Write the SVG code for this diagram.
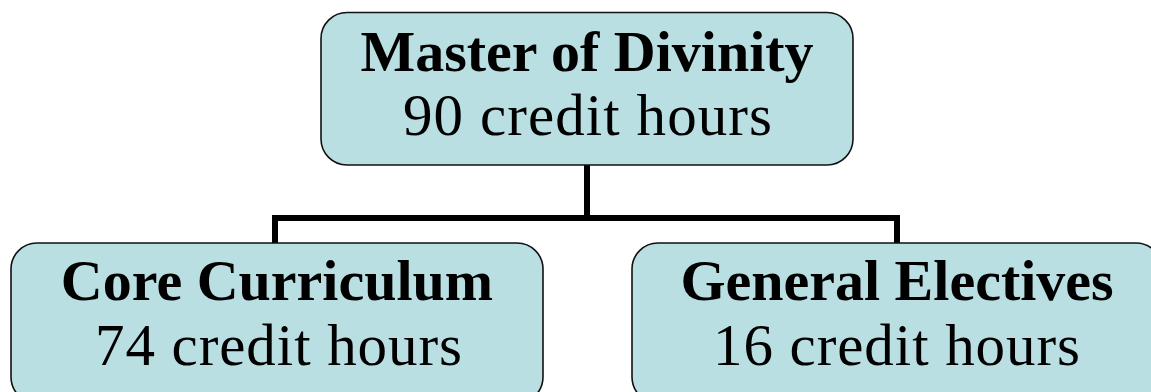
<svg xmlns="http://www.w3.org/2000/svg" width="1151" height="392" viewBox="0 0 1151 392">
<style>
.box{fill:#b9dfe2;stroke:#111;stroke-width:1.6}
.t{font-family:"Liberation Serif",serif;font-size:58px;fill:#000;text-anchor:middle}
.r{font-size:59px}
.b{font-weight:bold}
.c{fill:none;stroke:#000;stroke-width:6}
</style>
<rect x="0" y="0" width="1151" height="392" fill="#fff"/>
<g id="connectors">
<path class="c" d="M587 165 V218 M275 218 H897 M275 215 V243 M897 215 V243"/>
</g>
<g id="master">
<rect class="box" x="321" y="12.5" width="532" height="152.5" rx="26"/>
<text class="t b" x="587" y="71">Master of Divinity</text>
<text class="t r" x="587.5" y="135" textLength="369" lengthAdjust="spacing">90 credit hours</text>
</g>
<g id="core">
<rect class="box" x="11" y="243" width="532" height="160" rx="26"/>
<text class="t b" x="277" y="300">Core Curriculum</text>
<text class="t r" x="278.5" y="365" textLength="367" lengthAdjust="spacing">74 credit hours</text>
</g>
<g id="electives">
<rect class="box" x="632" y="243" width="530" height="160" rx="26"/>
<text class="t b" x="897" y="300">General Electives</text>
<text class="t r" x="896.5" y="365" textLength="367" lengthAdjust="spacing">16 credit hours</text>
</g>
</svg>
